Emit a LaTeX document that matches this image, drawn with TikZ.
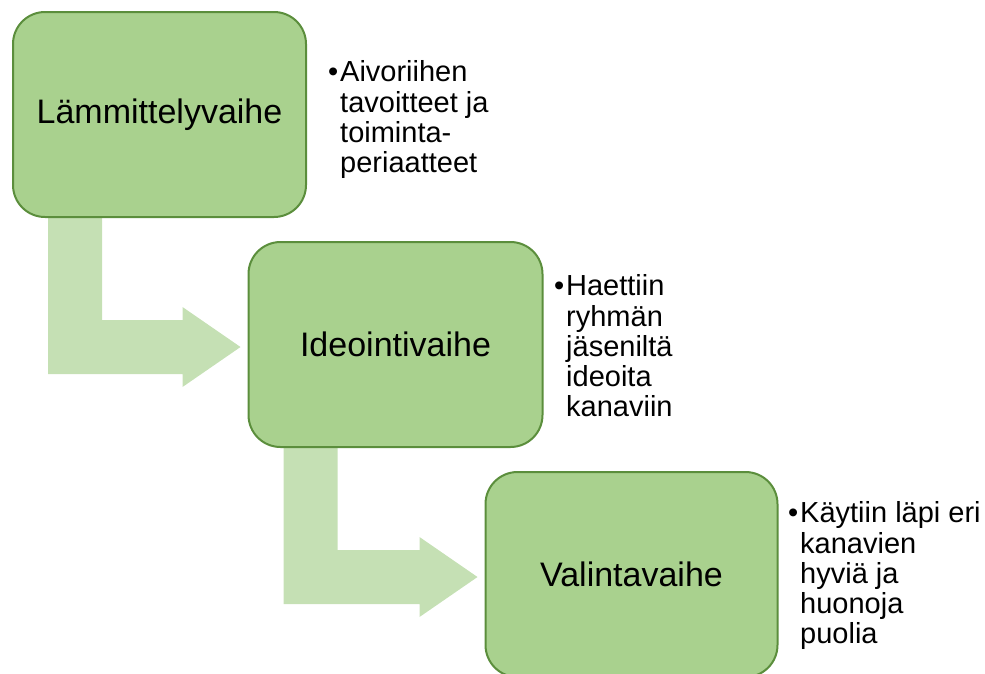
\documentclass[tikz,border=0pt]{standalone}
\usepackage{fontspec}
\setmainfont{Liberation Sans}
\usetikzlibrary{calc,backgrounds}
\definecolor{stagefill}{HTML}{A9D18E}
\definecolor{stageline}{HTML}{5B8E3C}
\definecolor{flowfill}{HTML}{C5E0B4}
\tikzset{
  stage/.style={draw=stageline, fill=stagefill, line width=2pt,
    rounded corners=32pt, minimum height=205pt, inner sep=0pt,
    font=\fontsize{34}{40}\selectfont},
  notes/.style={anchor=north west, inner sep=0pt, align=left,
    font=\fontsize{29}{30}\selectfont},
  flow/.style={fill=flowfill},
}
% hanging bullet in front of the first line of a note
\newcommand\notebullet{\strut\llap{•\kern2pt}}
% bent arrow from the lower left of one stage into the left side of the next
\newcommand\bentflow[2]{%
  \fill[flow] let \p1=(#1.south west), \p2=(#2.west) in
    (\x1+36pt,\y1+15pt) -- (\x1+90pt,\y1+15pt) -- (\x1+90pt,\y2+24.5pt)
    -- (\x2-65pt,\y2+24.5pt) -- (\x2-65pt,\y2+37.5pt) -- (\x2-7pt,\y2-2.5pt)
    -- (\x2-65pt,\y2-42.5pt) -- (\x2-65pt,\y2-29.5pt) -- (\x1+36pt,\y2-29.5pt)
    -- cycle;}
\begin{document}
\begin{tikzpicture}[x=1pt,y=-1pt]
\useasboundingbox (0,0) rectangle (985,673);
% stages
\node[stage, minimum width=293pt] (s1) at (159.5,114.5) {Lämmittelyvaihe};
\node[stage, minimum width=294pt] (s2) at (395.5,344.5) {Ideointivaihe};
\node[stage, minimum width=292pt] (s3) at (631.5,574.5) {Valintavaihe};
% arrows between stages, kept behind the boxes
\begin{scope}[on background layer]
  \bentflow{s1}{s2}
  \bentflow{s2}{s3}
\end{scope}
% notes beside each stage
\node[notes] (n1) at (340,60) {\notebullet Aivoriihen\\tavoitteet ja\\toiminta-\\periaatteet};
\node[notes] (n2) at (566,274) {\notebullet Haettiin\\ryhmän\\jäseniltä\\ideoita\\kanaviin};
\node[notes] (n3) at (800,501) {\notebullet Käytiin läpi eri\\kanavien\\hyviä ja\\huonoja\\puolia};
\end{tikzpicture}
\end{document}
